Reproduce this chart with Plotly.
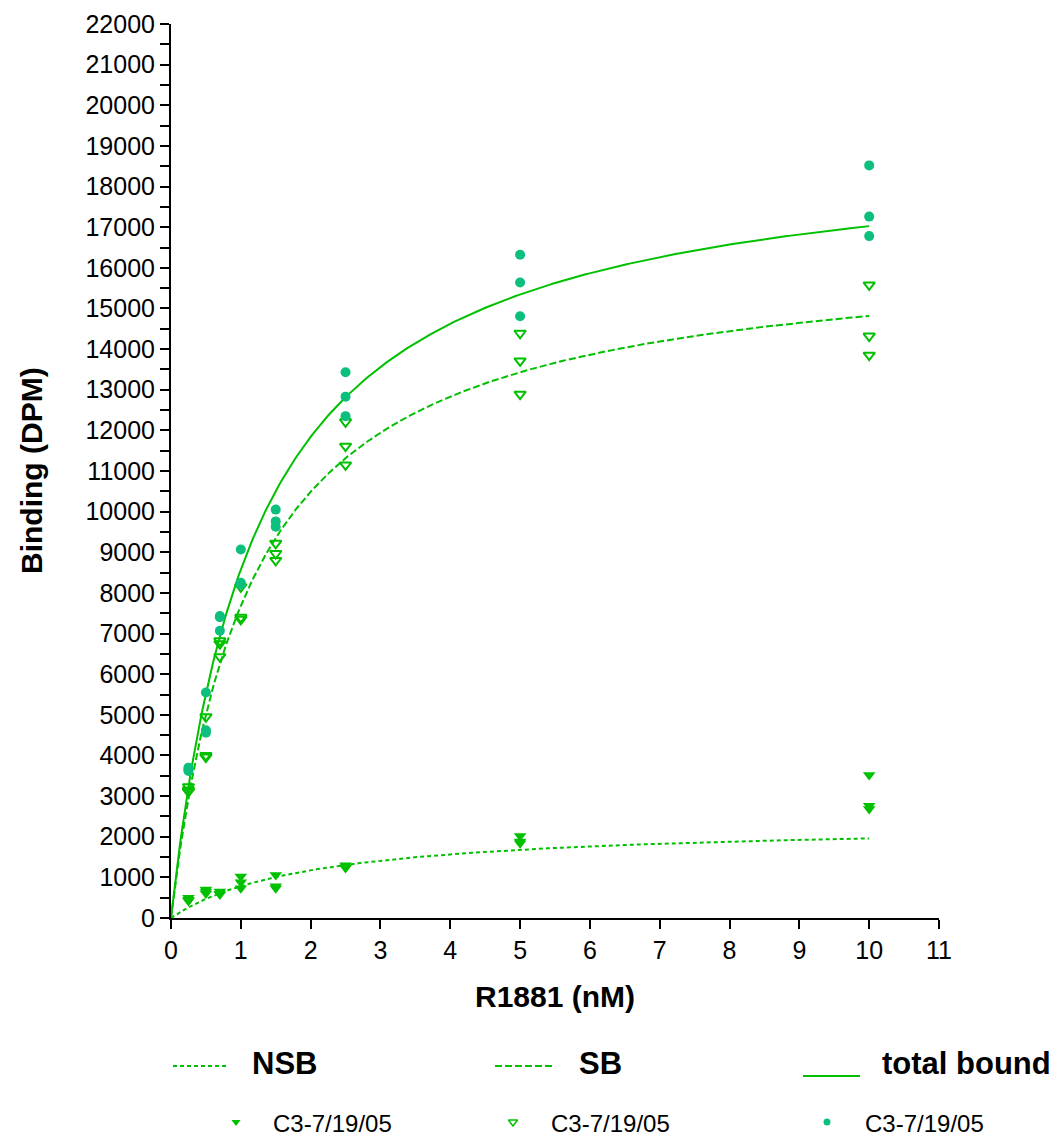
import numpy as np
import plotly.graph_objects as go

# R1881 concentrations (nM), three replicate wells each
conc = [0.25, 0.5, 0.7, 1.0, 1.5, 2.5, 5.0, 10.0]

# Non-specific binding (DPM), replicates per concentration
nsb_r1 = [500, 700, 650, 1020, 1060, 1300, 2020, 3520]
nsb_r2 = [420, 600, 600, 880, 780, 1250, 1880, 2760]
nsb_r3 = [450, 650, 580, 730, 730, 1230, 1840, 2680]

# Specific binding (DPM)
sb_r1 = [3230, 4950, 6820, 8150, 9220, 12210, 14390, 15580]
sb_r2 = [3150, 4000, 6430, 7350, 8970, 11610, 13710, 14320]
sb_r3 = [3110, 3960, 6750, 7400, 8800, 11150, 12890, 13850]

# Total binding (DPM)
tot_r1 = [3700, 5550, 7430, 9070, 10050, 13430, 16320, 18520]
tot_r2 = [3650, 4620, 7400, 8250, 9760, 12830, 15640, 17260]
tot_r3 = [3620, 4560, 7070, 8200, 9630, 12350, 14810, 16780]

# One-site hyperbola fit parameters: (Bmax in DPM, Kd in nM)
fit_nsb = (2350, 2.0)
fit_sb = (16520, 1.15)
fit_tot = (19120, 1.23)

x_ticks = list(range(0, 12))
y_ticks = list(range(0, 22001, 1000))

W, H = 1057, 1137
GREEN = "#00C000"
TEAL = "#0DBF7D"
FONT = "Arial, 'Liberation Sans', sans-serif"

# plot area in pixels
X0, X1 = 171, 939
Y0, Y1 = 918, 24


def one_site(x, bmax, kd):
    return bmax * x / (kd + x)


xc = np.linspace(0, max(conc), 400)

fig = go.Figure()


def reps(*cols):
    xs, ys = [], []
    for col in cols:
        xs += conc
        ys += col
    return xs, ys


# fitted curves
for (bmax, kd), dash in [(fit_nsb, "4px,3px"), (fit_sb, "7px,3px"), (fit_tot, "solid")]:
    fig.add_trace(go.Scatter(x=xc, y=one_site(xc, bmax, kd), mode="lines",
                             line=dict(color=GREEN, width=2, dash=dash),
                             showlegend=False, hoverinfo="skip"))

# replicate points
xs, ys = reps(nsb_r1, nsb_r2, nsb_r3)
fig.add_trace(go.Scatter(x=xs, y=ys, mode="markers", showlegend=False, cliponaxis=False,
                         marker=dict(symbol="triangle-down", size=11, color=GREEN,
                                     line=dict(width=0))))
xs, ys = reps(sb_r1, sb_r2, sb_r3)
fig.add_trace(go.Scatter(x=xs, y=ys, mode="markers", showlegend=False, cliponaxis=False,
                         marker=dict(symbol="triangle-down-open", size=10, color=GREEN,
                                     line=dict(width=2))))
xs, ys = reps(tot_r1, tot_r2, tot_r3)
fig.add_trace(go.Scatter(x=xs, y=ys, mode="markers", showlegend=False, cliponaxis=False,
                         marker=dict(symbol="circle", size=10, color=TEAL,
                                     line=dict(width=0))))

# legend, drawn on a pixel-space overlay axis
leg_lines = [
    ("NSB", "4px,3px", 173, 228, 1066, 250),
    ("SB", "7px,3px", 495, 552, 1066, 577),
    ("total bound", "solid", 803, 860, 1076, 880),
]
for name, dash, lx0, lx1, ly, tx in leg_lines:
    fig.add_trace(go.Scatter(x=[lx0, lx1], y=[ly, ly], mode="lines", xaxis="x2", yaxis="y2",
                             line=dict(color=GREEN, width=2, dash=dash),
                             showlegend=False, hoverinfo="skip"))
    fig.add_annotation(x=tx, y=1063, xref="x2", yref="y2", text="<b>%s</b>" % name,
                       showarrow=False, xanchor="left", yanchor="middle",
                       font=dict(family=FONT, size=31, color="black"))

leg_marks = [
    ("triangle-down", GREEN, 236, 271),
    ("triangle-down-open", GREEN, 513, 549),
    ("circle", TEAL, 827, 863),
]
for sym, col, mx, tx in leg_marks:
    fig.add_trace(go.Scatter(x=[mx], y=[1122], mode="markers", xaxis="x2", yaxis="y2",
                             marker=dict(symbol=sym, size=8 if "triangle" in sym else 7,
                                         color=col, line=dict(width=1.5 if "open" in sym else 0)),
                             showlegend=False, hoverinfo="skip", cliponaxis=False))
    fig.add_annotation(x=tx, y=1123, xref="x2", yref="y2", text="C3-7/19/05",
                       showarrow=False, xanchor="left", yanchor="middle",
                       font=dict(family=FONT, size=24, color="black"))

# axis titles
fig.add_annotation(x=31, y=(Y0 + Y1) / 2, xref="x2", yref="y2", text="<b>Binding (DPM)</b>",
                   textangle=-90, showarrow=False, xanchor="center", yanchor="middle",
                   font=dict(family=FONT, size=30, color="black"))
fig.add_annotation(x=(X0 + X1) / 2, y=996, xref="x2", yref="y2", text="<b>R1881 (nM)</b>",
                   showarrow=False, xanchor="center", yanchor="middle",
                   font=dict(family=FONT, size=30, color="black"))

axis_common = dict(showgrid=False, zeroline=False, showline=True, linecolor="black",
                   linewidth=2, ticks="outside", tickcolor="black", tickwidth=2,
                   ticklen=9, tickfont=dict(family=FONT, size=25, color="black"))

fig.update_layout(
    width=W, height=H,
    margin=dict(l=0, r=0, t=0, b=0),
    paper_bgcolor="white", plot_bgcolor="rgba(0,0,0,0)",
    showlegend=False,
    xaxis=dict(domain=[X0 / W, X1 / W], range=[0, 11], tickmode="array",
               tickvals=x_ticks, ticktext=[str(v) for v in x_ticks],
               anchor="y", automargin=False, **axis_common),
    yaxis=dict(domain=[1 - Y0 / H, 1 - Y1 / H], range=[0, 22000], tickmode="array",
               tickvals=y_ticks, ticktext=[str(v) for v in y_ticks],
               anchor="x", automargin=False,
               minor=dict(tickvals=list(range(500, 22000, 1000)), ticks="outside",
                          ticklen=9, tickwidth=2, tickcolor="black"),
               **axis_common),
    xaxis2=dict(domain=[0, 1], range=[0, W], visible=False, anchor="y2", fixedrange=True),
    yaxis2=dict(domain=[0, 1], range=[H, 0], visible=False, anchor="x2", fixedrange=True),
)

fig.write_html("out.html")
